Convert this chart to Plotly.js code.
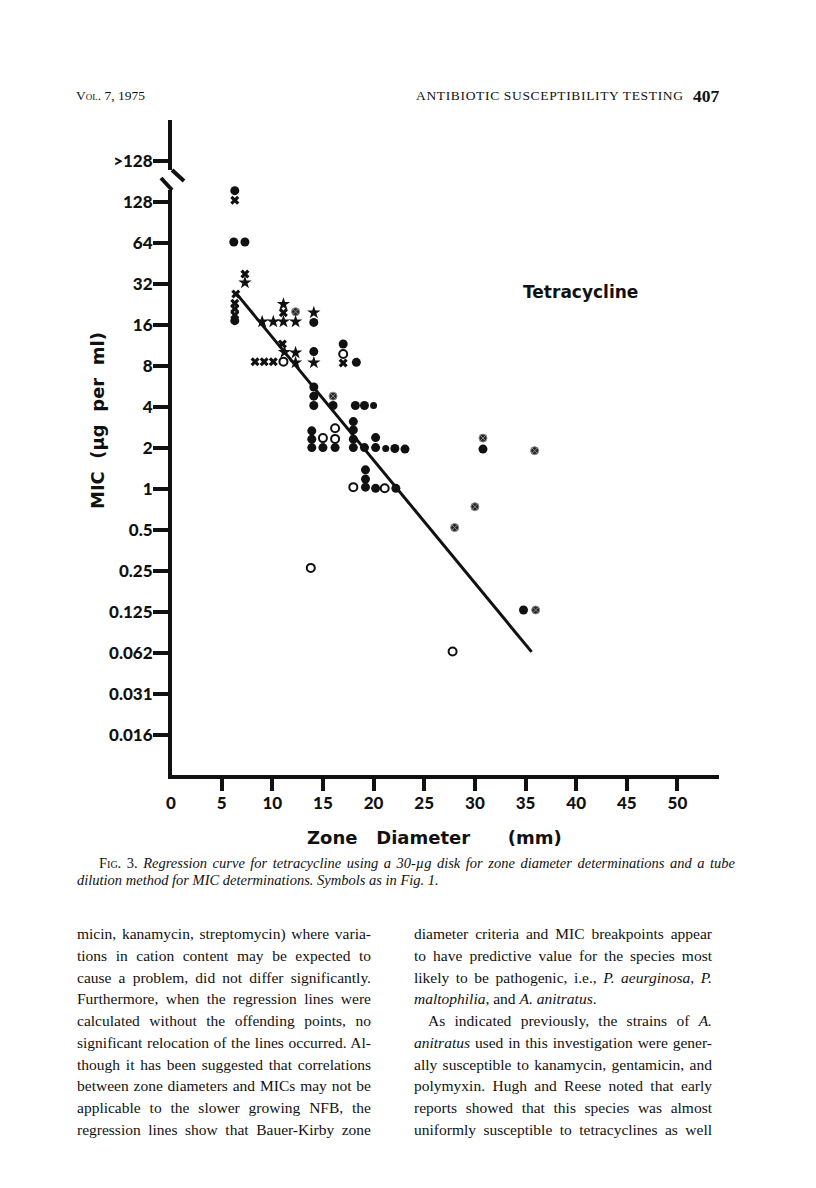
<!DOCTYPE html>
<html>
<head>
<meta charset="utf-8">
<script src="https://cdn.plot.ly/plotly-3.0.1.min.js"></script>
<style>
  body { margin: 0; background: #fff; }
  #page { position: relative; width: 816px; height: 1188px; overflow: hidden; background: #fff; }
  #chart { position: absolute; left: 0; top: 0; width: 816px; height: 1188px; }
  .ln { position: absolute; white-space: pre; font-family: "Liberation Serif", serif; color: #111; line-height: 18px; }
</style>
</head>
<body>
<div id="page">
  <div id="chart"></div>
</div>
<script>
// zone diameter (mm) / MIC (µg per ml), one pair of arrays per symbol
const filledX = [6.3, 6.2, 7.3, 6.3, 14.1, 14.1, 17.0, 18.3, 14.1, 14.1, 14.1, 16.0, 18.2, 19.1,
  13.9, 13.9, 13.9, 15.0, 16.2, 18.0, 18.0, 18.0, 18.0, 19.1, 20.2, 20.2, 22.1, 23.1,
  19.2, 19.2, 19.2, 20.2, 22.2, 30.8, 34.8];
const filledY = [155, 65, 65, 17.2, 16.7, 10.2, 11.6, 8.5, 5.6, 4.8, 4.1, 4.1, 4.1, 4.1,
  2.67, 2.32, 2.01, 2.01, 2.01, 3.12, 2.71, 2.32, 2.01, 2.01, 2.38, 2.01, 1.98, 1.96,
  1.38, 1.18, 1.03, 1.01, 1.01, 1.96, 0.129];

const smallX = [20.0, 21.2];
const smallY = [4.1, 1.98];

const shadedX = [12.3, 16.0, 30.8, 35.9, 30.0, 28.0, 36.0];
const shadedY = [20.0, 4.8, 2.36, 1.91, 0.74, 0.52, 0.129];

const openX = [11.1, 17.0, 15.0, 16.2, 16.2, 18.0, 21.1, 13.8, 27.8];
const openY = [8.6, 9.8, 2.36, 2.79, 2.33, 1.03, 1.01, 0.263, 0.064];

const starX = [7.3, 9.0, 10.1, 11.1, 12.3, 11.1, 14.1, 11.2, 12.3, 12.3, 14.1];
const starY = [32.7, 16.9, 16.9, 16.9, 16.9, 22.7, 19.7, 10.1, 10.0, 8.46, 8.46];

const crossX = [6.3, 7.3, 6.4, 6.3, 6.3, 6.3, 11.1, 8.3, 9.2, 10.1, 11.0, 17.0];
const crossY = [132, 37.9, 27, 23.1, 21, 18.9, 19.7, 8.6, 8.6, 8.6, 11.6, 8.4];

// regression line end points
const lineX = [6.4, 35.6];
const lineY = [27.5, 0.0635];

const micTicks = [256, 128, 64, 32, 16, 8, 4, 2, 1, 0.5, 0.25, 0.125, 0.0625, 0.03125, 0.015625];
const micLabels = [">128", "128", "64", "32", "16", "8", "4", "2", "1", "0.5", "0.25", "0.125", "0.062", "0.031", "0.016"];
const zoneTicks = [5, 10, 15, 20, 25, 30, 35, 40, 45, 50];

const headerLeft = 'V<span style="font-variant:small-caps">ol</span>. 7, 1975';
const headerRight = "ANTIBIOTIC SUSCEPTIBILITY TESTING";
const pageNo = "407";
const caption1 = '<span style="font-style:normal;font-variant:small-caps">Fig. 3.</span> Regression curve for tetracycline using a 30-µg disk for zone diameter determinations and a tube';
const caption2 = "dilution method for MIC determinations. Symbols as in Fig. 1.";
const leftLines = [
  "micin, kanamycin, streptomycin) where varia-",
  "tions in cation content may be expected to",
  "cause a problem, did not differ significantly.",
  "Furthermore, when the regression lines were",
  "calculated without the offending points, no",
  "significant relocation of the lines occurred. Al-",
  "though it has been suggested that correlations",
  "between zone diameters and MICs may not be",
  "applicable to the slower growing NFB, the",
  "regression lines show that Bauer-Kirby zone"
];
const rightLines = [
  "diameter criteria and MIC breakpoints appear",
  "to have predictive value for the species most",
  "likely to be pathogenic, i.e., <i>P. aeurginosa</i>, <i>P.</i>",
  "<i>maltophilia</i>, and <i>A. anitratus</i>.",
  "As indicated previously, the strains of <i>A.</i>",
  "<i>anitratus</i> used in this investigation were gener-",
  "ally susceptible to kanamycin, gentamicin, and",
  "polymyxin. Hugh and Reese noted that early",
  "reports showed that this species was almost",
  "uniformly susceptible to tetracyclines as well"
];

const L = 172, R = 97, T = 120, B = 413;
const W = 816 - L - R, H = 1188 - T - B;
const px = x => (x - L) / W;       // page pixel -> paper x
const py = y => (775 - y) / H;     // page pixel -> paper y

function pts(x, y, marker, name) {
  return { x, y, type: "scatter", mode: "markers", marker, name, cliponaxis: false, hoverinfo: "skip" };
}

const traces = [
  { x: lineX, y: lineY, type: "scatter", mode: "lines", line: { color: "#111", width: 3 }, hoverinfo: "skip" },
  pts(filledX, filledY, { symbol: "circle", size: 9, color: "#111" }, "filled"),
  pts(smallX, smallY, { symbol: "circle", size: 7, color: "#111" }, "small"),
  pts(shadedX, shadedY, { symbol: "circle-x", size: 8, color: "#262626", line: { color: "#8a8a8a", width: 1 } }, "shaded"),
  pts(openX, openY, { symbol: "circle-open", size: 8, color: "#111", line: { width: 2 } }, "open"),
  pts(starX, starY, { symbol: "star", size: 10, color: "#111" }, "star"),
  pts(crossX, crossY, { symbol: "x", size: 8, color: "#111" }, "cross")
];

const tickFont = { family: "Lato, sans-serif", size: 17, color: "#111", weight: 900 };
const titleFont = { family: "DejaVu Sans, sans-serif", size: 18, color: "#111", weight: "bold" };

function note(text, x, y, font, extra = {}) {
  return Object.assign({ text, xref: "paper", yref: "paper", x: px(x), y: py(y),
    xanchor: "center", yanchor: "middle", showarrow: false, font }, extra);
}

const layout = {
  width: 816, height: 1188, autosize: false,
  margin: { l: L, r: R, t: T, b: B, pad: 0 },
  paper_bgcolor: "rgba(0,0,0,0)", plot_bgcolor: "rgba(0,0,0,0)",
  showlegend: false,
  xaxis: {
    range: [0.1, 54.1], showgrid: false, zeroline: false,
    showline: true, linewidth: 4, linecolor: "#111",
    ticks: "outside", ticklen: 12, tickwidth: 4, tickcolor: "#111",
    tickvals: zoneTicks, tickfont: tickFont, ticklabelstandoff: -2
  },
  yaxis: {
    type: "log", range: [Math.log10(Math.pow(2, -6.98)), Math.log10(Math.pow(2, 9))],
    showgrid: false, zeroline: false,
    showline: true, linewidth: 4, linecolor: "#111",
    ticks: "outside", ticklen: 15, tickwidth: 4, tickcolor: "#111",
    tickvals: micTicks, ticktext: micLabels, tickfont: tickFont, ticklabelstandoff: -3
  },
  shapes: [
    // axis break between 128 and >128
    { type: "rect", xref: "paper", yref: "paper", x0: px(166), x1: px(178), y0: py(190), y1: py(170),
      fillcolor: "#fff", line: { width: 0 }, layer: "above" },
    { type: "line", xref: "paper", yref: "paper", x0: px(172), y0: py(170), x1: px(184), y1: py(181),
      line: { color: "#111", width: 4 }, layer: "above" },
    { type: "line", xref: "paper", yref: "paper", x0: px(161), y0: py(178), x1: px(172), y1: py(190),
      line: { color: "#111", width: 4 }, layer: "above" }
  ],
  annotations: [
    note("0", 171, 802, tickFont),
    note("Zone\u00a0\u00a0 Diameter\u00a0\u00a0\u00a0\u00a0\u00a0 (mm)", 434, 837, titleFont),
    note("MIC\u00a0 (µg\u00a0 per\u00a0 ml)", 97, 421, titleFont, { textangle: -90 }),
    note("Tetracycline", 580, 292, { family: "DejaVu Sans, sans-serif", size: 17, color: "#111", weight: "bold" })
  ]
};

Plotly.newPlot("chart", traces, layout, { staticPlot: true, displayModeBar: false });

// page text around the figure
const page = document.getElementById("page");
function addLine(html, left, centerY, width, size, opts = {}) {
  const el = document.createElement("div");
  el.className = "ln";
  el.innerHTML = html;
  el.style.left = left + "px";
  el.style.top = (centerY - 9) + "px";
  el.style.fontSize = size + "px";
  if (opts.italic) el.style.fontStyle = "italic";
  if (opts.bold) el.style.fontWeight = "bold";
  page.appendChild(el);
  if (width) {
    const w = el.getBoundingClientRect().width;
    if (opts.letters) {
      const n = el.textContent.length - 1;
      el.style.letterSpacing = ((width - w) / n) + "px";
    } else {
      const n = (el.textContent.match(/ /g) || []).length;
      if (n) el.style.wordSpacing = ((width - w) / n) + "px";
    }
  }
  return el;
}

addLine(headerLeft, 76, 96, 0, 13.5);
addLine(headerRight, 416, 96, 267, 13.5, { letters: true });
addLine(pageNo, 693, 96, 0, 17.5, { bold: true });

addLine(caption1, 99, 863, 636, 14.5, { italic: true });
addLine(caption2, 77, 880, 0, 14.5, { italic: true });

leftLines.forEach((t, i) => addLine(t, 77, 934 + i * 21.75, 294, 15.5));
rightLines.forEach((t, i) => {
  const indent = i === 4 ? 14 : 0;
  const full = i !== 3;
  addLine(t, 414 + indent, 934 + i * 21.75, full ? 298 - indent : 0, 15.5);
});
</script>
</body>
</html>
